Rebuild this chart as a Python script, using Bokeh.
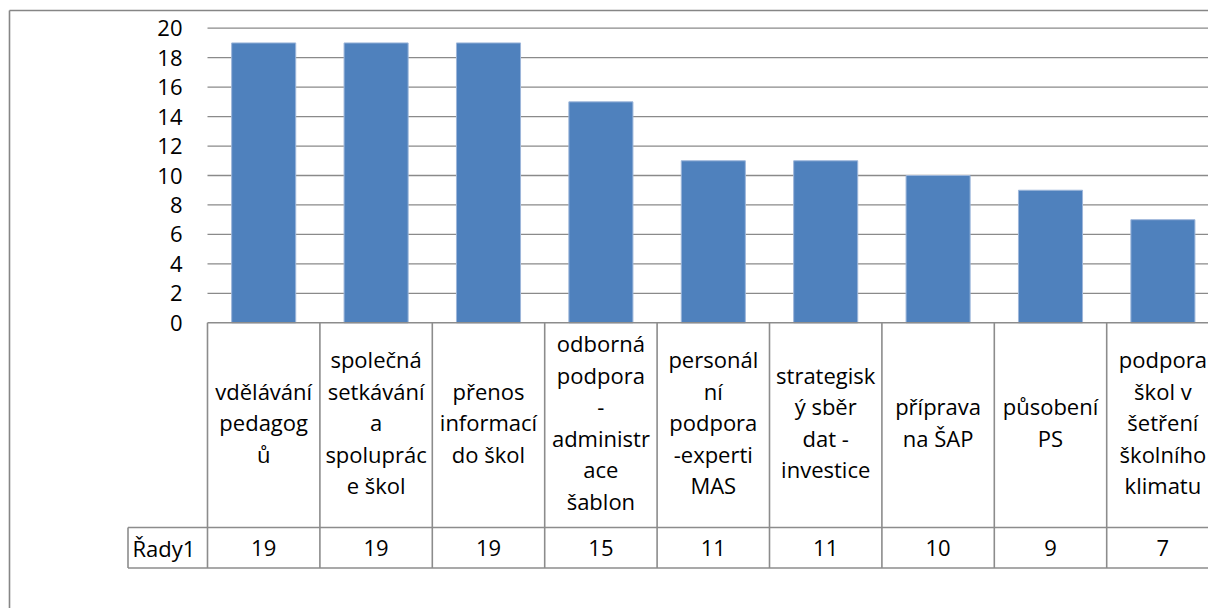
from bokeh.plotting import figure
from bokeh.models import Range1d, ColumnDataSource
from bokeh.embed import file_html
from bokeh.resources import INLINE
from bokeh.core.properties import value

# ---- data ----
categories = [
    "vdělávání\npedagog\nů",
    "společná\nsetkávání\na\nspoluprác\ne škol",
    "přenos\ninformací\ndo škol",
    "odborná\npodpora\n-\nadministr\nace\nšablon",
    "personál\nní\npodpora\n-experti\nMAS",
    "strategisk\ný sběr\ndat -\ninvestice",
    "příprava\nna ŠAP",
    "působení\nPS",
    "podpora\nškol v\nšetření\nškolního\nklimatu",
]
values = [19, 19, 19, 15, 11, 11, 10, 9, 7]
series_name = "Řady1"
y_ticks = [0, 2, 4, 6, 8, 10, 12, 14, 16, 18, 20]

# ---- layout (pixel geometry of the chart, in picture coords) ----
W, H = 1208, 608
OX, OY = 0, 0
PLOT_LEFT = 207.0        # left of plot area (px)
CAT_W = 112.4            # category width (px)
Y0 = 322.3               # y of value 0
PX_PER_UNIT = 14.73
HEADER_BOTTOM = 527.0
ROW_BOTTOM = 567.5
TABLE_LEFT = 127.5

def X(px):
    return (px - PLOT_LEFT) / CAT_W

def Y(py):
    return (Y0 - py) / PX_PER_UNIT

FONT = value("Open Sans")
FS = "22px"
GRID = "#8a8a8a"
LINE = "#8c8c8c"

p = figure(width=W, height=H, output_backend="svg", toolbar_location=None,
           x_range=Range1d(X(OX), X(OX + W)), y_range=Range1d(Y(OY + H), Y(OY)),
           min_border=0, outline_line_color=None)
p.xaxis.visible = False
p.yaxis.visible = False
p.grid.visible = False
p.background_fill_color = "white"
p.border_fill_color = "white"

n = len(categories)
xmax = X(OX + W) + 0.1

# gridlines (behind bars)
grid_vals = [t for t in y_ticks if t > 0]
p.segment(x0=[0] * len(grid_vals), x1=[xmax] * len(grid_vals),
          y0=grid_vals, y1=grid_vals, line_color=GRID, line_width=1.3)

# bars
idx = [i + 0.5 for i in range(n)]
src = ColumnDataSource(dict(x=idx, top=values, lab=categories,
                            val=[str(v) for v in values]))
p.vbar(x="x", top="top", bottom=0, width=0.57, source=src,
       fill_color="#4F81BD", line_color="#9db6da", line_width=1)

# y tick labels
p.text(x=[X(182)] * len(y_ticks), y=y_ticks, text=[str(t) for t in y_ticks],
       text_align="right", text_baseline="middle", text_font=FONT,
       text_font_size=FS, text_color="#000000")

# data table lines
yh = Y(HEADER_BOTTOM)
yb = Y(ROW_BOTTOM)
p.segment(x0=[0, X(TABLE_LEFT), X(TABLE_LEFT)], x1=[xmax, xmax, xmax],
          y0=[0, yh, yb], y1=[0, yh, yb], line_color=LINE, line_width=1.6)
vx = [float(i) for i in range(n)]
p.segment(x0=vx, x1=vx, y0=[0] * n, y1=[yb] * n, line_color=LINE, line_width=1.6)
p.segment(x0=[X(TABLE_LEFT)], x1=[X(TABLE_LEFT)], y0=[yh], y1=[yb],
          line_color=LINE, line_width=1.6)

# category labels
p.text(x="x", y=Y(421.5), text="lab", source=src, text_align="center",
       text_baseline="middle", text_font=FONT, text_font_size=FS,
       text_line_height=1.05, text_color="#000000")
# values row
p.text(x="x", y=Y(547.5), text="val", source=src, text_align="center",
       text_baseline="middle", text_font=FONT, text_font_size=FS,
       text_color="#000000")
p.text(x=[X(132)], y=[Y(547.5)], text=[series_name], text_align="left",
       text_baseline="middle", text_font=FONT, text_font_size=FS,
       text_color="#000000")

# outer chart border
p.segment(x0=[X(9), X(9)], x1=[X(9), xmax], y0=[Y(10), Y(10)], y1=[Y(OY + H + 5), Y(10)],
          line_color="#868686", line_width=1.6)

open("out.html", "w").write(file_html(p, INLINE))
